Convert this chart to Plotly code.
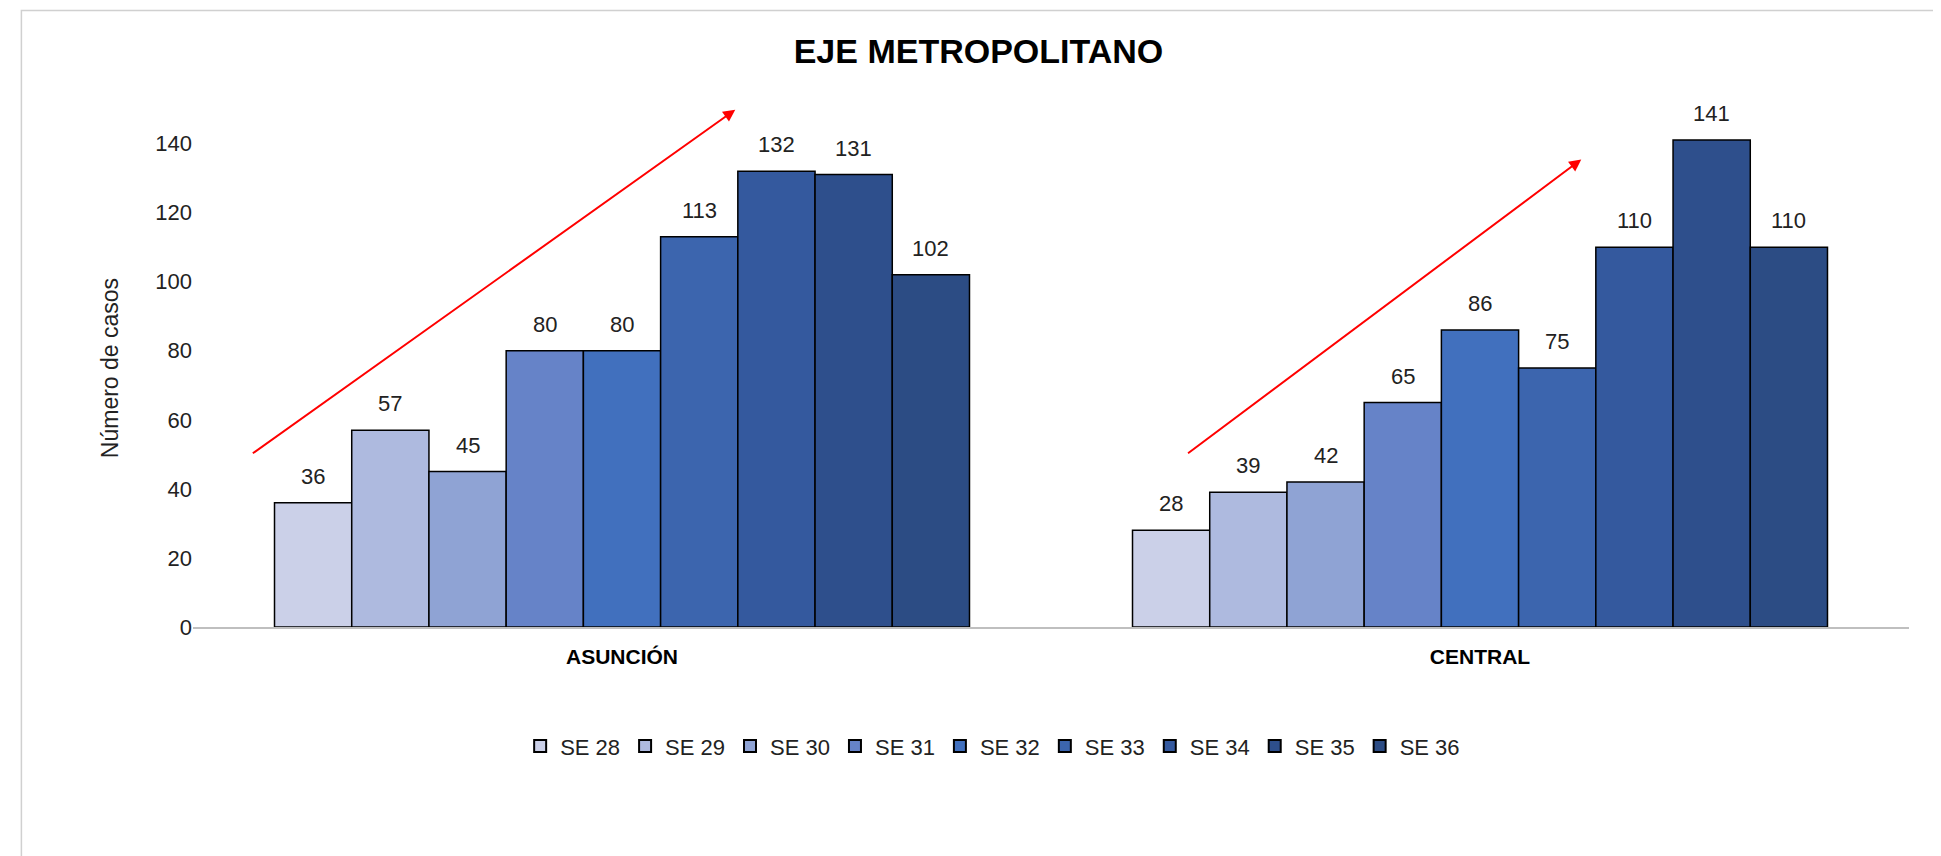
import plotly.graph_objects as go

categories = ["ASUNCIÓN", "CENTRAL"]
series = ["SE 28", "SE 29", "SE 30", "SE 31", "SE 32", "SE 33", "SE 34", "SE 35", "SE 36"]
asuncion = [36, 57, 45, 80, 80, 113, 132, 131, 102]
central = [28, 39, 42, 65, 86, 75, 110, 141, 110]
colors = ["#CBD0E8", "#AEBADF", "#8FA3D4", "#6683C8", "#4170BE", "#3C65AE", "#34599E", "#2E4F8C", "#2C4C84"]

bargap = 0.19
n = len(series)
bw = (1 - bargap) / n

fig = go.Figure()
for i, s in enumerate(series):
    vals = [asuncion[i], central[i]]
    fig.add_trace(go.Bar(name=s, x=[0, 1], y=vals, marker=dict(color=colors[i], line=dict(color="black", width=1.5))))
    for c, v in enumerate(vals):
        fig.add_annotation(x=c - (1 - bargap) / 2 + bw * (i + 0.5), y=v, xref="x", yref="y", text=str(v),
                           showarrow=False, yanchor="bottom", yshift=12, font=dict(size=22, color="#222"))

for (x0, y0, x1, y1) in [(-0.432, 50, 0.132, 149.8), (0.658, 50, 1.118, 135.4)]:
    fig.add_annotation(x=x1, y=y1, ax=x0, ay=y0, xref="x", yref="y", axref="x", ayref="y",
                       showarrow=True, arrowhead=2, arrowsize=1.2, arrowwidth=2, arrowcolor="#FF0000", text="")

fig.add_shape(type="rect", xref="paper", yref="paper", x0=-0.1, y0=-0.5, x1=1.2, y1=1.19,
              line=dict(color="#D0D0D0", width=1.5))

fig.update_layout(
    width=1941, height=856, barmode="group", bargap=bargap, bargroupgap=0,
    plot_bgcolor="white", paper_bgcolor="white",
    font=dict(family="Liberation Sans, Arial", size=22, color="#222"),
    title=dict(text="<b>EJE METROPOLITANO</b>", x=0.5, xanchor="center", y=0.95, yanchor="middle", font=dict(size=34, color="black")),
    margin=dict(l=185, r=40, t=101, b=237),
    xaxis=dict(range=[-0.5, 1.5], showline=True, linecolor="#BFBFBF", linewidth=1.5, ticks="outside", ticklen=10,
               tickcolor="rgba(0,0,0,0)",
               tickfont=dict(size=21, color="black", family="Liberation Sans, Arial"),
               tickvals=[0, 1], ticktext=["<b>ASUNCIÓN</b>", "<b>CENTRAL</b>"]),
    yaxis=dict(range=[0, 150], tickvals=[0, 20, 40, 60, 80, 100, 120, 140], showgrid=False, zeroline=False,
               title=dict(text="Número de casos", font=dict(size=23), standoff=30), tickfont=dict(size=22)),
    legend=dict(orientation="h", x=0.466, xanchor="center", y=-0.23, yanchor="middle", font=dict(size=22),
                itemwidth=30, itemsizing="constant", traceorder="normal"),
)
fig.write_html("out.html")
